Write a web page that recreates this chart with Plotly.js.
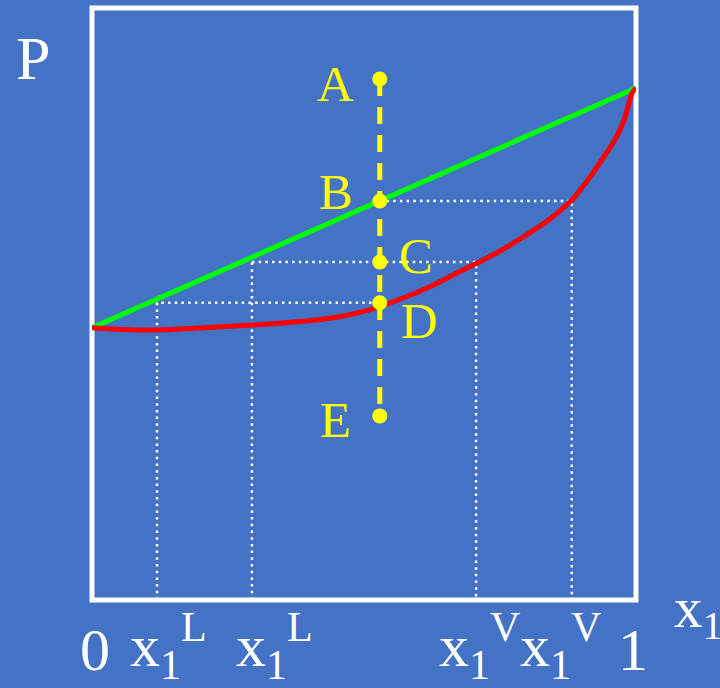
<!DOCTYPE html>
<html>
<head>
<meta charset="utf-8">
<script src="https://cdn.plot.ly/plotly-3.0.1.min.js"></script>
<style>html,body{margin:0;padding:0;background:#4472C4;}#chart{width:720px;height:688px;}</style>
</head>
<body>
<div id="chart"></div>
<script>
// Mole fraction x1 (0..1) and pressure P (normalised 0..1 of the frame height)
var dewX = [0, 1];
var dewP = [0.46, 0.865];           // green straight line
var bubbleX = [0, 0.0607, 0.1195, 0.1985, 0.2941, 0.3456, 0.4375, 0.4982, 0.5478, 0.6213, 0.6636, 0.7132, 0.75, 0.7923, 0.8419, 0.8824, 0.9154, 0.9577, 0.9761, 0.9853, 0.9926, 1];
var bubbleP = [0.46, 0.4569, 0.4561, 0.4595, 0.4645, 0.4674, 0.4758, 0.487, 0.5017, 0.5292, 0.549, 0.5715, 0.5895, 0.6132, 0.6436, 0.6757, 0.7145, 0.772, 0.8057, 0.8328, 0.8564, 0.865];
// State points on the vertical isopleth
var pointLabels = ["A", "B", "C", "D", "E"];
var pointX = 0.529;
var pointP = [0.880, 0.674, 0.571, 0.502, 0.311];
// Compositions read at the points
var x1L_D = 0.1195, x1L_C = 0.294, x1V_C = 0.706, x1V_B = 0.882;
var tickLabels = ["0", "x<sub>1</sub><sup>L</sup>", "x<sub>1</sub><sup>L</sup>", "x<sub>1</sub><sup>V</sup>", "x<sub>1</sub><sup>V</sup>", "1"];

var YEL = "#FFFF00";
var dotLine = {color: "white", width: 2.5, dash: "2.5px,4.2px"};
function seg(xs, ys) {
  return {x: xs, y: ys, type: "scatter", mode: "lines", line: dotLine, hoverinfo: "skip", showlegend: false};
}
var pB = pointP[1], pC = pointP[2], pD = pointP[3];
var traces = [
  seg([pointX, x1V_B, x1V_B], [pB, pB, 0]),
  seg([x1L_C, x1L_C], [0, pC]),
  seg([x1L_C, x1V_C, x1V_C], [pC, pC, 0]),
  seg([x1L_D, x1L_D, pointX], [0, pD, pD]),
  {x: dewX, y: dewP, type: "scatter", mode: "lines", line: {color: "#00FF00", width: 5}, showlegend: false},
  {x: bubbleX, y: bubbleP, type: "scatter", mode: "lines", line: {color: "#FF0000", width: 5, shape: "spline", smoothing: 0.5}, showlegend: false},
  {x: pointP.map(function(){return pointX;}), y: pointP, type: "scatter", mode: "lines+markers",
   line: {color: YEL, width: 5, dash: "17px,11px"}, marker: {color: YEL, size: 15}, showlegend: false}
];

var serif = "Liberation Serif";
var ann = [];
function A(text, x, y, size, color, xanchor) {
  ann.push({text: text, x: x, y: y, xref: "paper", yref: "paper", showarrow: false,
    xanchor: xanchor || "center", yanchor: "middle", font: {family: serif, size: size, color: color}});
}
A("P", -0.1085, 0.9155, 62, "white");
var labPos = [[0.4485, 0.8716], [0.4485, 0.6892], [0.5956, 0.581], [0.6029, 0.4713], [0.4467, 0.304]];
pointLabels.forEach(function(l, i){ A(l, labPos[i][0], labPos[i][1], 51, YEL); });
A(tickLabels[0], 0.0055, -0.0845, 60, "white");
A(tickLabels[1], 0.066, -0.078, 60, "white", "left");
A(tickLabels[2], 0.261, -0.078, 60, "white", "left");
A(tickLabels[3], 0.634, -0.078, 60, "white", "left");
A(tickLabels[4], 0.783, -0.078, 60, "white", "left");
A(tickLabels[5], 0.9945, -0.0845, 60, "white");
A("x<sub>1</sub>", 1.066, -0.02, 57, "white", "left");

var layout = {
  width: 720, height: 688,
  margin: {l: 92, r: 84, t: 8, b: 88, pad: 0},
  paper_bgcolor: "#4472C4", plot_bgcolor: "#4472C4",
  font: {family: serif},
  xaxis: {range: [0, 1], visible: false, fixedrange: true},
  yaxis: {range: [0, 1], visible: false, fixedrange: true},
  shapes: [{type: "rect", xref: "paper", yref: "paper", x0: 0, x1: 1, y0: 0, y1: 1,
    line: {color: "white", width: 5}, layer: "below"}],
  annotations: ann,
  showlegend: false
};
Plotly.newPlot("chart", traces, layout, {staticPlot: true});
</script>
</body>
</html>
